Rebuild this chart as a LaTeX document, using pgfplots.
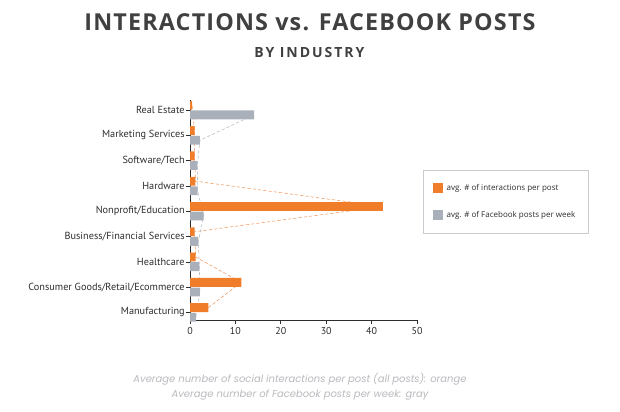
\documentclass[border=0pt]{standalone}
\usepackage{fontspec}
\setmainfont{PT Sans}
\newfontfamily\titlefont[LetterSpace=5]{Open Sans}
\newfontfamily\subfont[LetterSpace=14]{Open Sans}
\newfontfamily\legfont{Open Sans}
\newfontfamily\capfont{Poppins}
\usepackage{pgfplots}
\usepackage{pgfplotstable}
\pgfplotsset{compat=1.18}
\definecolor{orng}{RGB}{240,125,42}
\definecolor{barg}{RGB}{170,176,186}
\definecolor{dashg}{RGB}{180,185,194}
\definecolor{dasho}{RGB}{240,150,90}
\definecolor{txt}{RGB}{45,45,45}
\definecolor{ttl}{RGB}{64,64,64}
\definecolor{capg}{RGB}{185,185,190}
\definecolor{legb}{RGB}{200,203,208}

\pgfplotstableread{
idx inter posts
0 4.05 1.3
1 11.3 2.2
2 1.25 2.05
3 1.0 1.85
4 42.5 3.0
5 1.2 1.7
6 1.0 1.6
7 1.0 2.2
8 0.45 14.1
}\datatable

\begin{document}
\begin{tikzpicture}
\path[use as bounding box] (0,0) rectangle (465pt,308.25pt);
\node[font=\titlefont\bfseries\fontsize{17.5}{20}\selectfont, text=ttl] at (232.5pt,291.75pt) {INTERACTIONS vs. FACEBOOK POSTS};
\node[font=\subfont\bfseries\fontsize{10.5}{12}\selectfont, text=ttl] at (232pt,268.5pt) {BY INDUSTRY};
\node[font=\capfont\itshape\fontsize{7.5}{11.25}\selectfont, text=capg, align=center] at (225pt,18.4pt) {Average number of social interactions per post (all posts): orange\\Average number of Facebook posts per week: gray};
\begin{axis}[
  at={(142.5pt,68.25pt)}, anchor=south west,
  scale only axis, width=170.25pt, height=165pt,
  xmin=0, xmax=50, ymin=-0.3, ymax=8.4,
  axis x line*=bottom, axis y line*=left,
  axis line style={draw=txt, line width=0.6pt},
  xtick={0,10,20,30,40,50},
  ytick={0,...,8},
  yticklabels={Manufacturing,Consumer Goods/Retail/Ecommerce,Healthcare,Business/Financial Services,Nonprofit/Education,Hardware,Software/Tech,Marketing Services,Real Estate},
  tick align=outside,
  major tick length=3pt,
  tick style={draw=txt, line width=0.5pt},
  /pgf/number format/assume math mode=true,
  ticklabel style={font=\fontsize{7.5}{9}\selectfont, text=txt},
  yticklabel style={inner xsep=0.8pt, font=\fontsize{7.7}{9}\selectfont},
  xticklabel style={inner ysep=2pt},
  legend style={at={(1.026,0.682)}, anchor=north west, draw=legb, line width=0.6pt,
    font=\legfont\fontsize{6}{7}\selectfont, text=txt,
    row sep=10pt, inner xsep=7pt, inner ysep=8.5pt,
    nodes={inner xsep=3pt}},
  legend cell align=left,
  legend image code/.code={\fill[#1,draw=none] (0pt,-3.75pt) rectangle (7.5pt,3.75pt);},
  clip=false,
]
\addplot[dasho, dash pattern=on 2.5pt off 1.5pt, line width=0.4pt, forget plot] table[x=inter, y expr=\thisrow{idx}+0.19] {\datatable};
\addplot[dashg, dash pattern=on 2.5pt off 1.5pt, line width=0.4pt, forget plot] table[x=posts, y expr=\thisrow{idx}-0.19] {\datatable};
\addplot[xbar, bar width=0.35, bar shift=0pt, fill=orng, draw=none] table[x=inter, y expr=\thisrow{idx}+0.19] {\datatable};
\addlegendentry{avg. \# of interactions per post}
\addplot[xbar, bar width=0.35, bar shift=0pt, fill=barg, draw=none] table[x=posts, y expr=\thisrow{idx}-0.19] {\datatable};
\addlegendentry{avg. \# of Facebook posts per week}
\end{axis}
\end{tikzpicture}
\end{document}
